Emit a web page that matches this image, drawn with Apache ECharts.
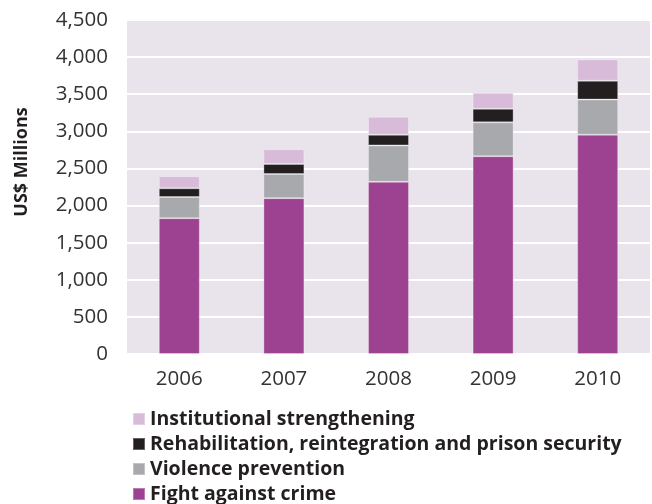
<!DOCTYPE html>
<html>
<head>
<meta charset="utf-8">
<script src="https://cdn.jsdelivr.net/npm/echarts@6/dist/echarts.min.js"></script>
<style>
  html, body { margin: 0; padding: 0; background: #fff; }
  #chart { width: 652px; height: 504px; }
</style>
</head>
<body>
<div id="chart"></div>
<script>
// values, US$ millions
const years = ["2006", "2007", "2008", "2009", "2010"];
const fightAgainstCrime = [1830, 2100, 2320, 2665, 2955];
const violencePrevention = [285, 325, 490, 456, 473];
const rehabilitation = [118, 135, 143, 183, 253];
const institutional = [162, 200, 243, 217, 288];
const yTicks = [0, 500, 1000, 1500, 2000, 2500, 3000, 3500, 4000, 4500];

const FONT = "'Open Sans', 'DejaVu Sans', sans-serif";

const chart = echarts.init(document.getElementById("chart"));

function barSeries(name, data, color) {
  return {
    name: name,
    type: "bar",
    stack: "total",
    barWidth: 41,
    data: data,
    itemStyle: {
      color: color,
      borderColor: "rgba(255,255,255,0.3)",
      borderWidth: 1,
    },
  };
}

const option = {
  backgroundColor: "#fff",
  animation: false,
  grid: {
    left: 127,
    right: 2,
    top: 20,
    bottom: 150,
    show: true,
    backgroundColor: "#E9E4EC",
    borderWidth: 0,
  },
  legend: {
    orient: "vertical",
    left: 132,
    top: 409,
    height: 95,
    padding: 0,
    itemWidth: 12,
    itemHeight: 12,
    itemGap: 5,
    icon: "rect",
    textStyle: {
      fontFamily: FONT,
      fontWeight: "bold",
      fontSize: 19.5,
      color: "#231F20",
      lineHeight: 19.5,
    },
    data: [
      "Institutional strengthening",
      "Rehabilitation, reintegration and prison security",
      "Violence prevention",
      "Fight against crime",
    ],
  },
  xAxis: {
    type: "category",
    data: years,
    axisLine: { show: false },
    axisTick: { show: false },
    axisLabel: {
      margin: 15,
      fontFamily: FONT,
      fontSize: 20.5,
      color: "#333",
    },
  },
  yAxis: {
    type: "value",
    min: yTicks[0],
    max: yTicks[yTicks.length - 1],
    interval: 500,
    name: "US$ Millions",
    nameLocation: "middle",
    nameGap: 96,
    nameTextStyle: {
      fontFamily: FONT,
      fontWeight: "bold",
      fontSize: 18,
      color: "#231F20",
      padding: [0, 0, 0, 50],
    },
    axisLine: { show: false },
    axisTick: { show: false },
    splitLine: { lineStyle: { color: "#fff", width: 2 } },
    axisLabel: {
      margin: 19,
      fontFamily: FONT,
      fontSize: 20.5,
      color: "#333",
      formatter: (v) => v.toLocaleString("en-US"),
    },
  },
  series: [
    barSeries("Fight against crime", fightAgainstCrime, "#9C4290"),
    barSeries("Violence prevention", violencePrevention, "#A8A9AD"),
    barSeries("Rehabilitation, reintegration and prison security", rehabilitation, "#231F20"),
    barSeries("Institutional strengthening", institutional, "#D8BBD8"),
  ],
};

chart.setOption(option);
</script>
</body>
</html>
